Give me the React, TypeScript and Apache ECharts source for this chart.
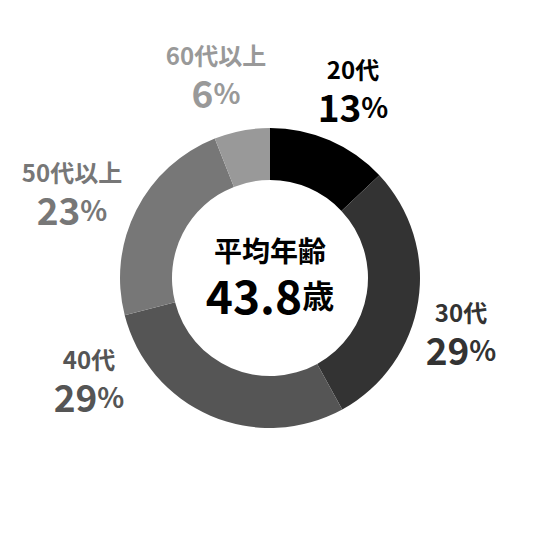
import React, { useEffect, useRef } from 'react'
import * as echarts from 'echarts'

// 年代別の構成比
const categories = ['20代', '30代', '40代', '50代以上', '60代以上']
const shares = [13, 29, 29, 23, 6]
const colors = ['#000000', '#333333', '#555555', '#777777', '#999999']

// 中央の表示
const centerTitle = '平均年齢'
const averageAge = '43.8'
const ageUnit = '歳'

// ラベルの配置（ブロック中心）
const labelSpots: [number, number][] = [
  [353, 88],
  [461, 331],
  [89, 378],
  [72, 191],
  [216, 74],
]

const FONT = '"Noto Sans CJK JP", "Noto Sans", sans-serif'

export default function App() {
  const chartRef = useRef<HTMLDivElement>(null)

  useEffect(() => {
    if (!chartRef.current) return
    document.body.style.margin = '0'
    const chart = echarts.init(chartRef.current, null, { renderer: 'svg' })

    const option = {
      animation: false,
      backgroundColor: '#ffffff',
      textStyle: { fontFamily: FONT },
      graphic: [
        {
          type: 'text',
          style: {
            x: 270,
            y: 275,
            align: 'center',
            verticalAlign: 'middle',
            text: `{t|${centerTitle}}\n{n|${averageAge}}{u|${ageUnit}}`,
            rich: {
              t: { fontSize: 28, fontWeight: 'bold', fontFamily: FONT, fill: '#000', lineHeight: 38, align: 'center' },
              n: { fontSize: 46, fontWeight: 'bold', fontFamily: FONT, fill: '#000', lineHeight: 50 },
              u: { fontSize: 32, fontWeight: 'bold', fontFamily: FONT, fill: '#000', lineHeight: 50 },
            },
          },
        },
      ],
      series: [
        {
          type: 'pie',
          center: [270, 278],
          radius: [98, 150],
          startAngle: 90,
          clockwise: true,
          avoidLabelOverlap: false,
          silent: true,
          data: categories.map((name, i) => ({
            name,
            value: shares[i],
            itemStyle: { color: colors[i] },
            label: {
              rich: {
                t: { fontSize: 24, fontWeight: 'bold', fontFamily: FONT, color: colors[i], lineHeight: 35 },
                n: { fontSize: 37, fontWeight: 'bold', fontFamily: FONT, color: colors[i], lineHeight: 40 },
                p: { fontSize: 28, fontWeight: 'bold', fontFamily: FONT, color: colors[i], lineHeight: 40 },
              },
            },
          })),
          label: {
            show: true,
            position: 'outside',
            align: 'center',
            formatter: (p: any) => `{t|${p.name}}\n{n|${p.value}}{p|%}`,
          },
          labelLine: { show: false },
          labelLayout: (params: any) => {
            const [x, y] = labelSpots[params.dataIndex]
            return { x, y, align: 'center', verticalAlign: 'middle' }
          },
        },
      ],
    }

    chart.setOption(option)
    return () => chart.dispose()
  }, [])

  return <div ref={chartRef} style={{ width: '540px', height: '540px' }} />
}
